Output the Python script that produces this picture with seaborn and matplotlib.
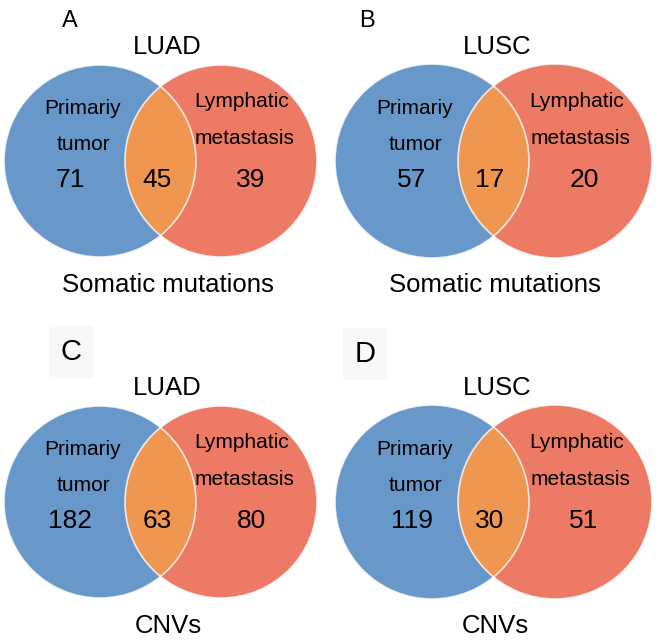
import matplotlib
matplotlib.use("Agg")
import matplotlib.pyplot as plt
from matplotlib.patches import Circle
import seaborn as sns

# counts per panel (A, B, C, D)
panel_letters = ['A', 'B', 'C', 'D']
cohorts = ['LUAD', 'LUSC', 'LUAD', 'LUSC']
data_types = ['Somatic mutations', 'Somatic mutations', 'CNVs', 'CNVs']
primary_only = [71, 57, 182, 119]
shared = [45, 17, 63, 30]
lymph_only = [39, 20, 80, 51]
set_labels = ['Primariy\ntumor', 'Lymphatic\nmetastasis']

sns.set_style("white")
plt.rcParams['font.family'] = ['Liberation Sans', 'DejaVu Sans']
plt.rcParams['text.color'] = 'black'
colors = sns.color_palette(['#6897ca', '#ec7a64', '#ef9650'])

fig = plt.figure(figsize=(6.59, 6.44), dpi=100)
ax = fig.add_axes([0, 0, 1, 1])
ax.set_xlim(0, 659)
ax.set_ylim(644, 0)
ax.axis('off')

# layout: panel offsets and per-column local positions (pixels)
col_x0 = [0, 330]
row_y0 = [0, 341]
left_cx = [100, 102]
right_cx = [221, 225]
radius = [96, 97]
cy = 161
prim_x = [83, 85]
lymph_x = [242, 247]
meta_x = [244, 251]
cnt_left_x = [70, 82]
cnt_mid_x = [157, 160]
cnt_right_x = [251, 254]
title_x = [167, 167]
bottom_x = [168, 165]
letter_pos = [(70, 27), (367, 27), (71, 360), (365, 362)]
letter_size = [17, 17, 21, 21]

for i in range(4):
    col, row = i % 2, i // 2
    ox, oy = col_x0[col], row_y0[row]
    r = radius[col]

    c1 = Circle((ox + left_cx[col], oy + cy), r, fc=colors[0], ec='none')
    c2 = Circle((ox + right_cx[col], oy + cy), r, fc=colors[1], ec='none')
    ax.add_patch(c1)
    ax.add_patch(c2)
    lens = Circle((ox + right_cx[col], oy + cy), r, fc=colors[2], ec='none')
    ax.add_patch(lens)
    lens.set_clip_path(c1)
    for cx in (left_cx[col], right_cx[col]):
        ax.add_patch(Circle((ox + cx, oy + cy), r, fill=False, ec='white', lw=1.2, alpha=0.8))

    # set labels
    prim, lymph = set_labels[0].split('\n'), set_labels[1].split('\n')
    ax.text(ox + prim_x[col], oy + 113.5, prim[0], ha='center', va='baseline', fontsize=15)
    ax.text(ox + prim_x[col], oy + 150, prim[1], ha='center', va='baseline', fontsize=15)
    ax.text(ox + lymph_x[col], oy + 107, lymph[0], ha='center', va='baseline', fontsize=15)
    ax.text(ox + meta_x[col], oy + 144, lymph[1], ha='center', va='baseline', fontsize=15)

    # counts
    ax.text(ox + cnt_left_x[col], oy + 187, str(primary_only[i]), ha='center', va='baseline', fontsize=19)
    ax.text(ox + cnt_mid_x[col], oy + 187, str(shared[i]), ha='center', va='baseline', fontsize=19)
    ax.text(ox + cnt_right_x[col], oy + 187, str(lymph_only[i]), ha='center', va='baseline', fontsize=19)

    # titles
    ax.text(ox + title_x[col], oy + 54, cohorts[i], ha='center', va='baseline', fontsize=18.5)
    ax.text(ox + bottom_x[col], oy + 292, data_types[i], ha='center', va='baseline', fontsize=18.5)

    lx, ly = letter_pos[i]
    bbox = None
    if row == 1:
        bbox = dict(boxstyle='square,pad=0.4', fc='#f8f8f8', ec='none')
    ax.text(lx, ly, panel_letters[i], ha='center', va='baseline', fontsize=letter_size[i], bbox=bbox)

fig.savefig('out.png', dpi=100)
